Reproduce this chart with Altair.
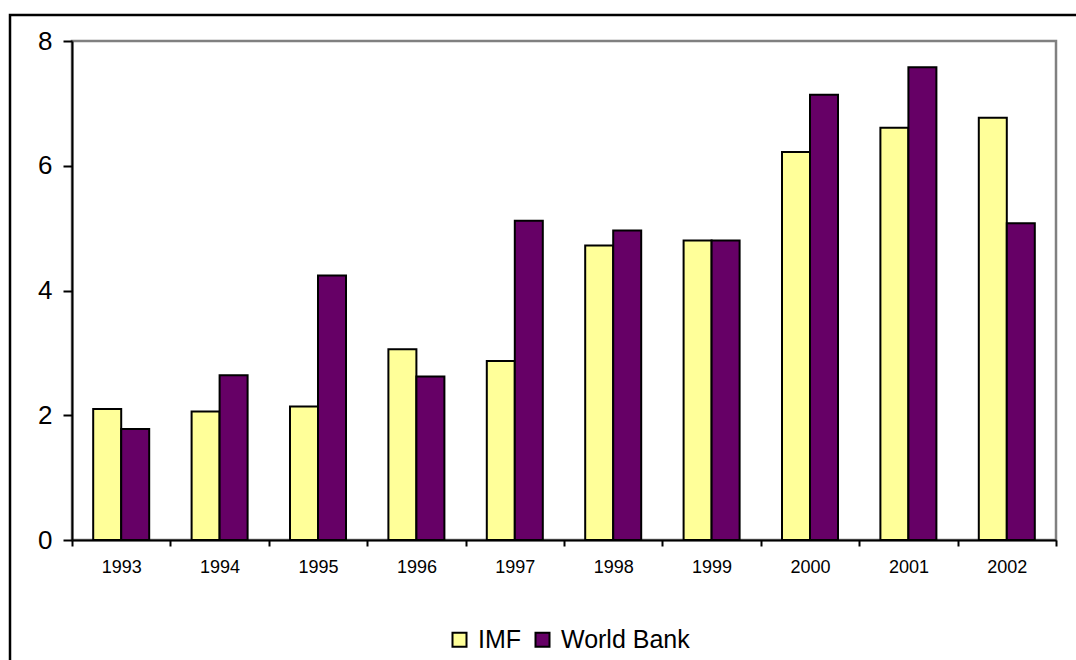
import altair as alt
import pandas as pd

years = ["1993", "1994", "1995", "1996", "1997", "1998", "1999", "2000", "2001", "2002"]
imf = [2.10, 2.06, 2.14, 3.06, 2.87, 4.72, 4.80, 6.22, 6.61, 6.77]
world_bank = [1.78, 2.64, 4.24, 2.62, 5.12, 4.96, 4.80, 7.14, 7.58, 5.08]
series = ["IMF", "World Bank"]
colors = ["#FFFF99", "#660066"]

rows = []
for i, y in enumerate(years):
    rows.append({"year": y, "series": series[0], "value": imf[i]})
    rows.append({"year": y, "series": series[1], "value": world_bank[i]})
df = pd.DataFrame(rows)

FONT = "Liberation Sans"

bars = alt.Chart(df).mark_bar(stroke="black", strokeWidth=2).encode(
    x=alt.X("year:N", sort=years, title=None,
            scale=alt.Scale(paddingInner=0, paddingOuter=0),
            axis=alt.Axis(labelAngle=0, tickBand="extent", domainColor="black",
                          domainWidth=2, tickColor="black", tickWidth=2, tickSize=6,
                          labelFontSize=18, labelFont=FONT, labelColor="black",
                          labelPadding=12, grid=False)),
    xOffset=alt.XOffset("series:N", sort=series,
                        scale=alt.Scale(paddingInner=0, paddingOuter=0.757)),
    y=alt.Y("value:Q", title=None,
            scale=alt.Scale(domain=[0, 8], nice=False),
            axis=alt.Axis(values=[0, 2, 4, 6, 8], grid=False, domainColor="black",
                          domainWidth=2, tickColor="black", tickWidth=2, tickSize=9,
                          labelFontSize=26, labelFont=FONT, labelColor="black",
                          labelPadding=11)),
    color=alt.Color("series:N", sort=series,
                    scale=alt.Scale(domain=series, range=colors),
                    legend=alt.Legend(title=None, orient="none", direction="horizontal",
                                      legendX=375, legendY=586,
                                      symbolType="square", symbolSize=196,
                                      symbolStrokeColor="black", symbolStrokeWidth=2,
                                      symbolOpacity=1,
                                      labelFontSize=25, labelFont=FONT, labelColor="black",
                                      labelOffset=6, columnPadding=8)),
)

frame = alt.Chart(pd.DataFrame({"a": [0]})).mark_rect(
    fill="white", fillOpacity=0, stroke="black", strokeWidth=2.5
).encode(
    x=alt.value(-62), x2=alt.value(1100), y=alt.value(-26), y2=alt.value(700)
)

chart = alt.layer(frame, bars).properties(
    width=984, height=499,
    autosize=alt.AutoSizeParams(type="none"),
    padding={"left": 72, "top": 41, "right": 20, "bottom": 120},
    background="white",
).configure_view(stroke="#808080", strokeWidth=2.5)

chart.save("out.html", embed_options={"renderer": "svg", "actions": False})
